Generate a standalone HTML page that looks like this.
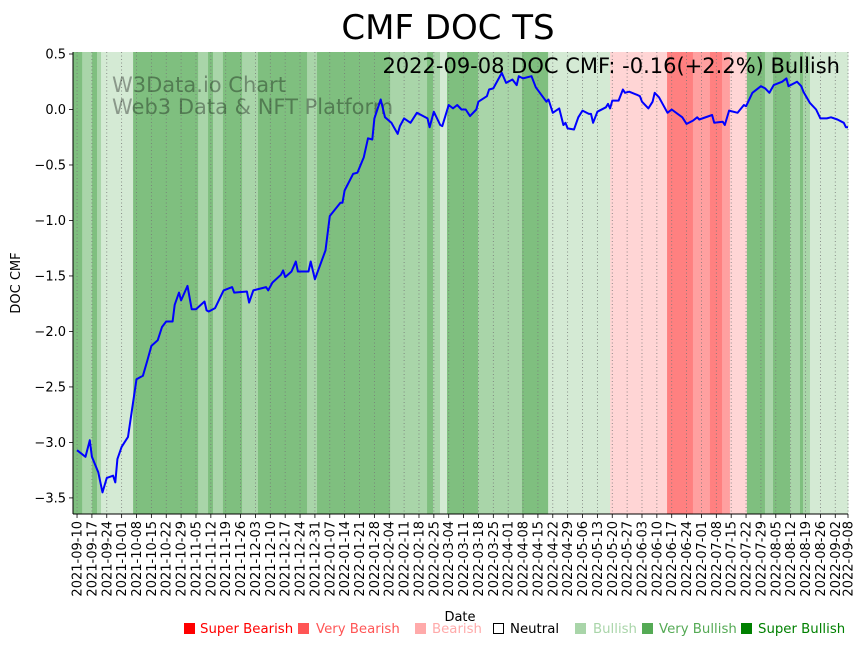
<!DOCTYPE html>
<html><head><meta charset="utf-8"><style>
body{margin:0;background:#fff;width:867px;height:646px;overflow:hidden;font-family:"Liberation Sans","DejaVu Sans",sans-serif}
</style></head><body>
<svg id="chart" width="867" height="646" xmlns="http://www.w3.org/2000/svg" font-family="DejaVu Sans, Liberation Sans, sans-serif">
<text x="448" y="39" font-size="34" text-anchor="middle">CMF DOC TS</text>
<g id="bands"></g><g id="grid"></g>
<text x="112" y="92" font-size="21" fill="#000" fill-opacity="0.35">W3Data.io Chart</text>
<text x="112" y="114" font-size="21" fill="#000" fill-opacity="0.35">Web3 Data &amp; NFT Platform</text>
<g id="line"></g>
<text x="840" y="73" font-size="21" text-anchor="end">2022-09-08 DOC CMF: -0.16(+2.2%) Bullish</text>
<g id="axes"></g>
<text transform="translate(20,283) rotate(-90)" font-size="13" text-anchor="middle">DOC CMF</text>
<text x="460" y="621" font-size="13" text-anchor="middle">Date</text>
<g font-size="13.3">
<rect x="184" y="623" width="11" height="11" fill="#ff0000"/><text x="200" y="633" fill="#ff0000">Super Bearish</text>
<rect x="298" y="623" width="11" height="11" fill="#ff5555"/><text x="316" y="633" fill="#ff5555">Very Bearish</text>
<rect x="415" y="623" width="11" height="11" fill="#ffaaaa"/><text x="432" y="633" fill="#ffaaaa">Bearish</text>
<rect x="493.5" y="623.5" width="10" height="10" fill="#fff" stroke="#000"/><text x="510" y="633" fill="#000">Neutral</text>
<rect x="575" y="623" width="11" height="11" fill="#a9d5a9"/><text x="593" y="633" fill="#a9d5a9">Bullish</text>
<rect x="642" y="623" width="11" height="11" fill="#55aa55"/><text x="659" y="633" fill="#55aa55">Very Bullish</text>
<rect x="741" y="623" width="11" height="11" fill="#008000"/><text x="758" y="633" fill="#008000">Super Bullish</text>
</g>
</svg>
<script>
// line data: day offset from 2021-09-10, CMF value
const days=[0,4,6,7,10,12,14,17,18,19,21,24,28,31,33,35,38,40,42,45,46,48,49,52,54,56,60,61,62,65,69,73,74,80,81,83,89,90,92,96,97,98,101,103,104,109,110,112,117,119,124,125,126,130,132,135,137,139,140,143,145,148,151,152,154,157,160,165,166,168,171,172,175,177,179,181,183,185,188,189,193,194,196,200,202,205,207,208,210,214,216,221,222,224,227,229,230,231,234,236,238,241,242,243,245,249,250,251,252,255,257,258,260,264,265,266,269,271,272,274,278,280,285,287,290,292,293,299,300,304,305,307,311,314,315,318,322,324,326,328,332,334,335,338,339,341,342,345,348,350,353,355,358,361,362,363];
const values=[-3.07,-3.13,-2.98,-3.13,-3.27,-3.45,-3.32,-3.30,-3.36,-3.15,-3.04,-2.95,-2.43,-2.40,-2.27,-2.13,-2.08,-1.96,-1.91,-1.91,-1.76,-1.65,-1.72,-1.59,-1.80,-1.80,-1.73,-1.81,-1.82,-1.79,-1.63,-1.60,-1.65,-1.64,-1.74,-1.63,-1.60,-1.63,-1.56,-1.49,-1.45,-1.51,-1.46,-1.37,-1.46,-1.46,-1.37,-1.53,-1.27,-0.96,-0.84,-0.84,-0.73,-0.58,-0.57,-0.43,-0.26,-0.27,-0.08,0.09,-0.07,-0.12,-0.22,-0.15,-0.08,-0.12,-0.03,-0.08,-0.16,-0.02,-0.14,-0.15,0.04,0.01,0.04,0.0,0.0,-0.06,0.0,0.07,0.12,0.18,0.19,0.33,0.24,0.27,0.22,0.30,0.28,0.30,0.20,0.07,0.09,-0.03,0.01,-0.14,-0.12,-0.17,-0.18,-0.07,-0.01,-0.04,-0.04,-0.12,-0.02,0.02,0.05,0.01,0.08,0.08,0.18,0.15,0.16,0.13,0.12,0.07,0.01,0.07,0.15,0.11,-0.03,0.0,-0.07,-0.13,-0.10,-0.07,-0.09,-0.05,-0.12,-0.11,-0.14,-0.01,-0.03,0.04,0.03,0.15,0.21,0.19,0.15,0.22,0.25,0.28,0.21,0.24,0.25,0.21,0.16,0.06,0.0,-0.08,-0.08,-0.07,-0.09,-0.12,-0.16,-0.16];
// background regime bands (day ranges)
const bandStart=[-2,2.4,7.1,9.4,11.3,26.4,57,61.7,64,68.7,77.7,85.2,108.3,113,147.4,164.8,167.6,170.9,174.2,188.8,209.5,221.8,251,277.8,290,298,303.7,307.4,315.4,323.9,327.7,335.7,340.4,341.8,345.1];
const bandEnd=[2.4,7.1,9.4,11.3,26.4,57,61.7,64,68.7,77.7,85.2,108.3,113,147.4,164.8,167.6,170.9,174.2,188.8,209.5,221.8,251,277.8,290,298,303.7,307.4,315.4,323.9,327.7,335.7,340.4,341.8,345.1,363];
const bandState=["vb","b","vb","b","l","vb","b","vb","b","vb","b","vb","b","vb","b","vb","b","l","vb","b","vb","l","p","r","m","r","m","p","vb","b","vb","b","vb","b","l"];
const yTicks=[0.5,0.0,-0.5,-1.0,-1.5,-2.0,-2.5,-3.0,-3.5];
const yTickLabels=["0.5","0.0","−0.5","−1.0","−1.5","−2.0","−2.5","−3.0","−3.5"];

const NS="http://www.w3.org/2000/svg";
const L=73,R=848,T=52,B=514,XMIN=-1.9,XMAX=363,YMIN=-3.645,YMAX=0.518;
const xs=d=>L+(d-XMIN)/(XMAX-XMIN)*(R-L);
const ys=v=>B-(v-YMIN)/(YMAX-YMIN)*(B-T);
const colors={vb:"#7fbf7f",b:"#a9d5a9",l:"#d4ead4",p:"#ffd5d5",m:"#ffa0a0",r:"#ff8080"};
function mk(tag,attrs,parent){const e=document.createElementNS(NS,tag);for(const k in attrs)e.setAttribute(k,attrs[k]);parent.appendChild(e);return e;}

const bg=document.getElementById('bands');
for(let i=0;i<bandStart.length;i++){
  const r=mk('rect',{x:xs(bandStart[i]),y:T,width:xs(bandEnd[i])-xs(bandStart[i])+0.4,height:B-T,fill:colors[bandState[i]]},bg);
  
  
}
const grid=document.getElementById('grid'),axes=document.getElementById('axes');
const start=new Date(Date.UTC(2021,8,10));
const tickDays=[];for(let d=0;d<=357;d+=7)tickDays.push(d);tickDays.push(363);
tickDays.forEach(d=>{
  const x=xs(d);
  const g=mk('line',{x1:x,x2:x,y1:T,y2:B,stroke:"#777","stroke-width":0.8,"stroke-dasharray":"1,2.5"},grid);
  
  
  mk('line',{x1:x,x2:x,y1:B,y2:B+4,stroke:"#000","stroke-width":0.8},axes);
  const dt=new Date(start.getTime()+d*86400000);
  const t=mk('text',{transform:`translate(${x+4.5},${B+7}) rotate(-90)`,"font-size":13,"text-anchor":"end"},axes);
  
  
  t.textContent=dt.toISOString().slice(0,10);
});
yTicks.forEach((v,i)=>{
  const y=ys(v);
  mk('line',{x1:L-4,x2:L,y1:y,y2:y,stroke:"#000","stroke-width":0.8},axes);
  const t=mk('text',{x:L-7,y:y+4.5,"font-size":13,"text-anchor":"end"},axes);
  
  
  t.textContent=yTickLabels[i];
});
const ax1=mk('line',{x1:L,x2:L,y1:T,y2:B,stroke:"#000","stroke-width":1},axes);


const ax2=mk('line',{x1:L,x2:R,y1:B,y2:B,stroke:"#000","stroke-width":1},axes);



const pts=days.map((d,i)=>xs(d).toFixed(1)+','+ys(values[i]).toFixed(1)).join(' ');
const pl=mk('polyline',{points:pts,fill:"none",stroke:"#0000ff","stroke-width":2,"stroke-linejoin":"round"},document.getElementById('line'));


</script>
</body></html>
